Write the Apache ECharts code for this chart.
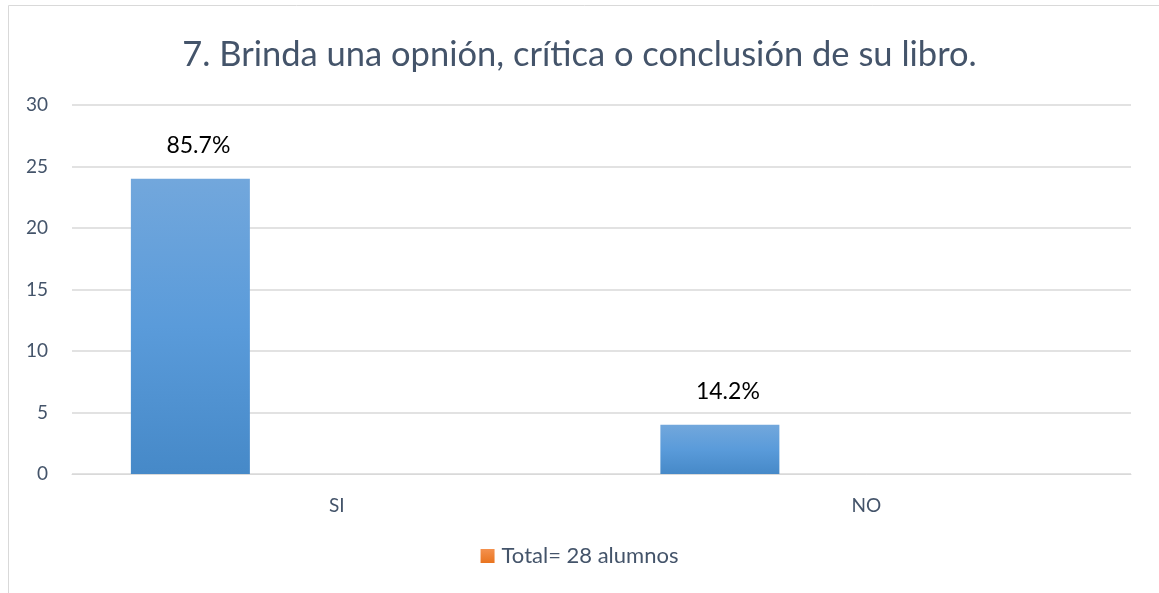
<!DOCTYPE html>
<html>
<head>
<meta charset="utf-8">
<script src="https://cdn.jsdelivr.net/npm/echarts@6/dist/echarts.min.js"></script>
<style>html,body{margin:0;padding:0;background:#fff;}#c{width:1159px;height:593px;}</style>
</head>
<body>
<div id="c"></div>
<script>
const titleText = '7. Brinda una opnión, crítica o conclusión de su libro.';
const categories = ['SI', 'NO'];
const values = [24, 4];
const percentLabels = ['85.7%', '14.2%'];
const legendName = 'Total= 28 alumnos';
const yTicks = { min: 0, max: 30, interval: 5 };

const font = 'Lato, "Open Sans", sans-serif';
const textColor = '#44546a';
const chart = echarts.init(document.getElementById('c'));
chart.setOption({
  animation: false,
  graphic: [{
    type: 'rect', shape: { x: 8.5, y: 5.5, width: 1200, height: 700 },
    style: { fill: 'none', stroke: '#d9d9d9', lineWidth: 1 }, silent: true, z: -1
  }],
  title: {
    text: titleText, left: 'center', top: 32,
    textStyle: { fontFamily: font, fontSize: 34.5, fontWeight: 'normal', color: textColor }
  },
  legend: {
    data: [legendName], bottom: 21, left: 'center', itemWidth: 14, itemHeight: 14, itemGap: 5,
    icon: 'rect',
    textStyle: { fontFamily: font, fontSize: 22, color: textColor, padding: [0, 0, 0, 2] }
  },
  grid: { left: 72, right: 28, top: 105, bottom: 119, containLabel: false },
  xAxis: {
    type: 'category', data: categories,
    axisLine: { lineStyle: { color: '#d9d9d9' } }, axisTick: { show: false },
    axisLabel: { fontFamily: font, fontSize: 19, color: textColor, margin: 22 }
  },
  yAxis: {
    type: 'value', min: yTicks.min, max: yTicks.max, interval: yTicks.interval,
    axisLine: { show: false }, axisTick: { show: false },
    splitLine: { lineStyle: { color: '#d9d9d9', width: 1.5 } },
    axisLabel: { fontFamily: font, fontSize: 19, color: textColor, margin: 24 }
  },
  series: [{
    name: 'valores', type: 'bar', data: values, barWidth: 119, barGap: '146%',
    itemStyle: {
      color: new echarts.graphic.LinearGradient(0, 0, 0, 1, [
        { offset: 0, color: '#72a7dc' }, { offset: 0.5, color: '#5a9bda' }, { offset: 1, color: '#4689c8' }
      ])
    },
    label: {
      show: true, position: 'top', distance: 22, offset: [8, 0],
      formatter: p => percentLabels[p.dataIndex],
      fontFamily: font, fontSize: 23, color: '#000'
    }
  }, {
    name: legendName, type: 'bar', data: categories.map(() => null), barWidth: 119,
    itemStyle: {
      color: new echarts.graphic.LinearGradient(0, 0, 0, 1, [
        { offset: 0, color: '#f4914e' }, { offset: 1, color: '#e9741f' }
      ])
    }
  }]
});
</script>
</body>
</html>
